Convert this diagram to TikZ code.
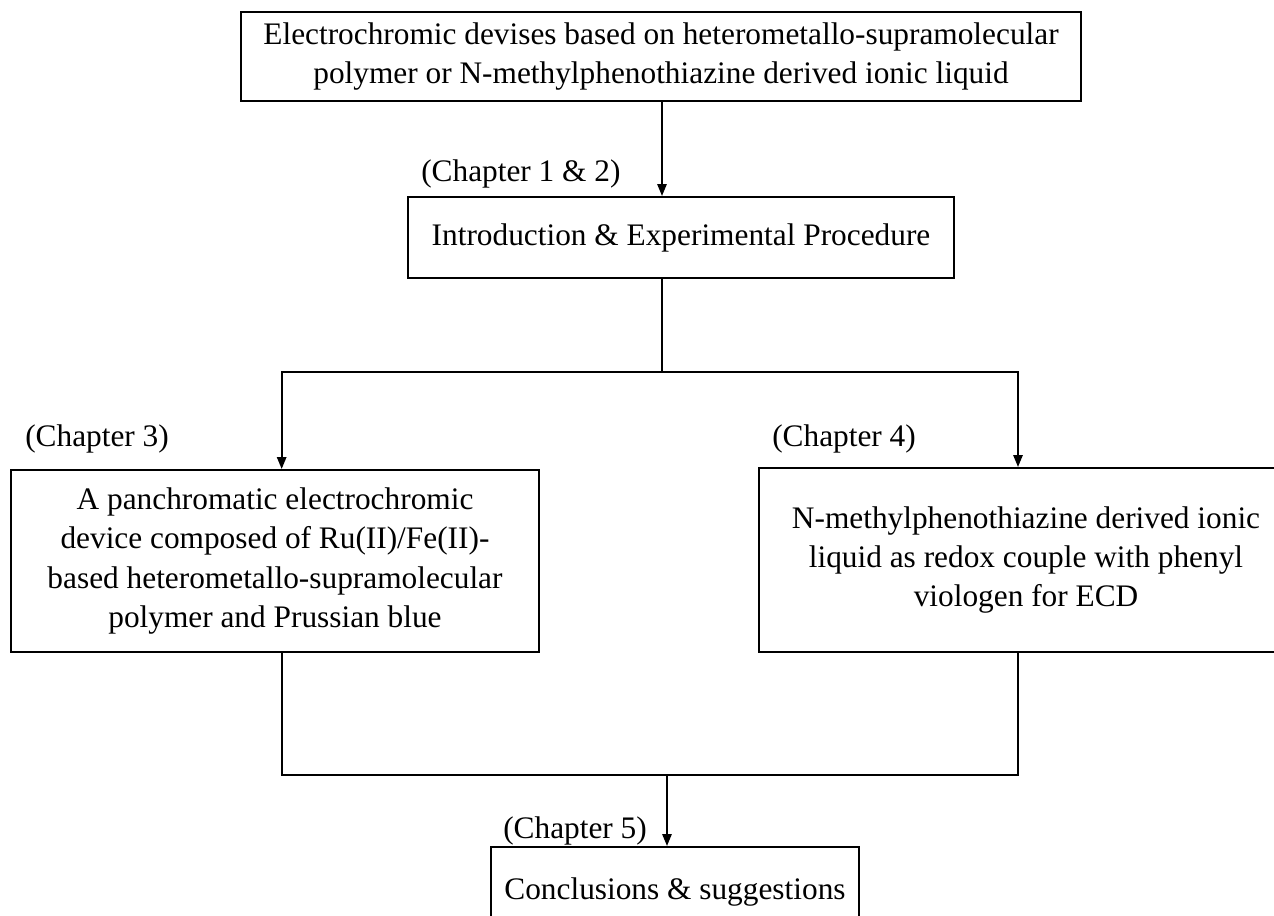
\documentclass[tikz,border=0pt]{standalone}
\usepackage{fontspec}
\setmainfont{Liberation Serif}
\usepackage{tikz}
\usetikzlibrary{arrows.meta, positioning}

\begin{document}
\begin{tikzpicture}[
    x=0.75pt, y=-0.75pt,
    box/.style={rectangle, draw, line width=1.5pt, align=center, inner sep=0pt, font=\fontsize{23.5}{29.5}\selectfont},
    chap/.style={anchor=west, inner sep=0pt, font=\fontsize{23.5}{27}\selectfont},
    arrow/.style={-{Triangle[length=9pt, width=7pt]}, line width=1.4pt},
    link/.style={line width=1.4pt},
]
\useasboundingbox (0,0) rectangle (1274,915);

\node[box, minimum width=630pt, minimum height=66.75pt] (thesis) at (661,56.5)
    {Electrochromic devises based on heterometallo-supramolecular\\polymer or N-methylphenothiazine derived ionic liquid};
\node[box, minimum width=409.5pt, minimum height=60.75pt] (intro) at (681,237.5)
    {Introduction \& Experimental Procedure};
\node[box, minimum width=396pt, minimum height=136.5pt] (panchro) at (275,561)
    {A panchromatic electrochromic\\device composed of Ru(II)/Fe(II)-\\based heterometallo-supramolecular\\polymer and Prussian blue};
\node[box, minimum width=400.5pt, minimum height=138pt] (ionic) at (1026,560)
    {N-methylphenothiazine derived ionic\\liquid as redox couple with phenyl\\viologen for ECD};
\node[box, minimum width=276pt, minimum height=67.5pt] (concl) at (675,892)
    {Conclusions \& suggestions};

% chapter labels
\node[chap] (chapA) at (421,174) {(Chapter 1 \& 2)};
\node[chap] (chapB) at (25,439) {(Chapter 3)};
\node[chap] (chapC) at (772,439) {(Chapter 4)};
\node[chap] (chapD) at (503,831) {(Chapter 5)};

\coordinate (split) at (662,372);
\coordinate (merge) at (667,775);

\draw[arrow] (thesis.south -| split) -- (intro.north -| split);
\draw[link] (intro.south -| split) -- (split);
\draw[arrow] (split) -| ([xshift=5pt]panchro.north);
\draw[arrow] (split) -| ([xshift=-6pt]ionic.north);
\draw[link] ([xshift=5pt]panchro.south) |- (merge) -| ([xshift=-6pt]ionic.south);
\draw[arrow] (merge) -- (concl.north -| merge);

\end{tikzpicture}
\end{document}
